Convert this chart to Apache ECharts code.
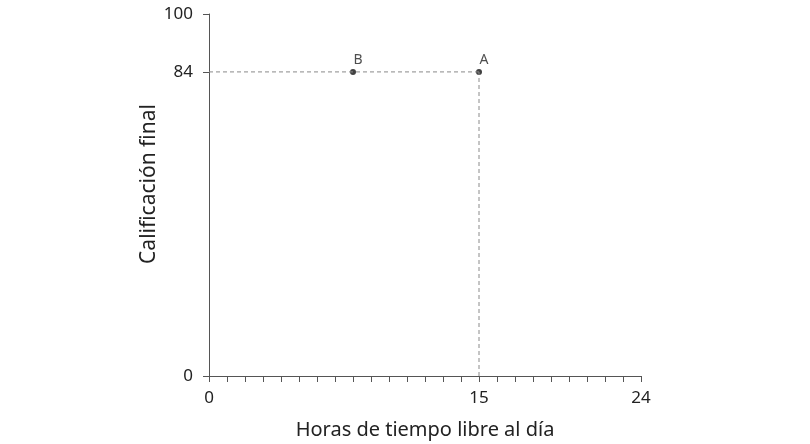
<!DOCTYPE html>
<html><head><meta charset="utf-8">
<script src="https://cdn.jsdelivr.net/npm/echarts@6/dist/echarts.min.js"></script>
<style>html,body{margin:0;padding:0;background:#fff}#c{width:810px;height:444px}</style>
</head><body><div id="c"></div>
<script>
const xTickLabels = [0, 15, 24];
const yTickLabels = [0, 84, 100];
const pointNames = ['B', 'A'];
const pointX = [8, 15];
const pointY = [84, 84];
const guideH = [[0, 84], [15, 84]];
const guideV = [[15, 0], [15, 84]];

const chart = echarts.init(document.getElementById('c'));
const font = 'Noto Sans';
chart.setOption({
  animation: false,
  grid: { left: 209, right: 169, top: 14, bottom: 68, containLabel: false, outerBoundsMode: 'none' },
  xAxis: {
    type: 'value', min: 0, max: 24, interval: 1,
    name: 'Horas de tiempo libre al día', nameLocation: 'middle', nameGap: 44, nameMoveOverlap: false,
    nameTextStyle: { fontFamily: font, fontSize: 20, color: '#222' },
    axisLine: { lineStyle: { color: '#555', width: 1 } },
    axisTick: { inside: false, length: 6, lineStyle: { color: '#555' } },
    splitLine: { show: false },
    axisLabel: {
      fontFamily: font, fontSize: 17, color: '#222', margin: 14,
      formatter: v => xTickLabels.includes(v) ? String(v) : ''
    }
  },
  yAxis: {
    type: 'value', min: 0, max: 100,
    name: 'Calificación final', nameLocation: 'middle', nameGap: 49, nameMoveOverlap: false,
    nameTextStyle: { fontFamily: font, fontSize: 21, color: '#222', padding: [0, 0, 0, 22] },
    axisLine: { show: true, lineStyle: { color: '#555', width: 1 } },
    axisTick: { show: true, length: 6, customValues: yTickLabels, lineStyle: { color: '#555' } },
    splitLine: { show: false },
    axisLabel: { fontFamily: font, fontSize: 17, color: '#222', margin: 16, customValues: yTickLabels }
  },
  series: [
    { type: 'line', data: guideH, symbol: 'none', silent: true,
      lineStyle: { color: '#8a8a8a', width: 1, type: [4, 3] } },
    { type: 'line', data: guideV, symbol: 'none', silent: true,
      lineStyle: { color: '#8a8a8a', width: 1, type: [4, 3] } },
    { type: 'scatter', symbolSize: 6, itemStyle: { color: '#111' },
      data: pointNames.map((n, i) => ({ name: n, value: [pointX[i], pointY[i]] })),
      label: { show: true, position: 'top', distance: 2, offset: [5, 0], formatter: p => p.name,
        fontFamily: font, fontSize: 14, color: '#222' } }
  ]
});
</script></body></html>
